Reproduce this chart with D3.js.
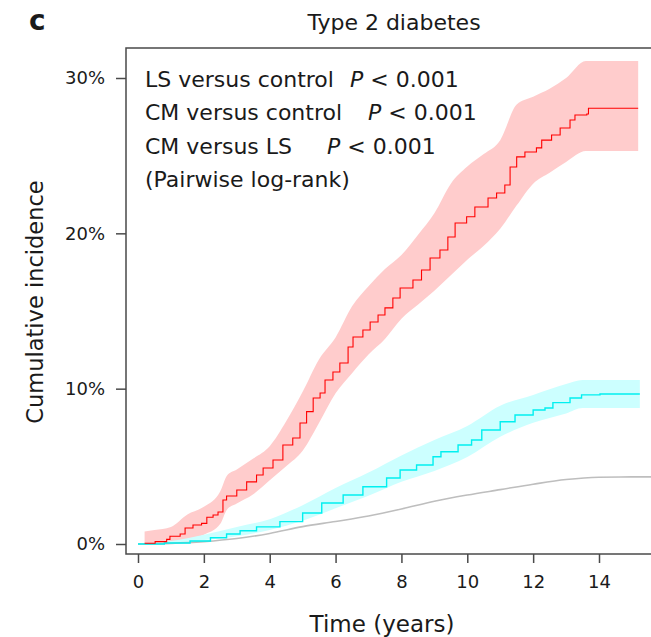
<!DOCTYPE html>
<html>
<head>
<meta charset="utf-8">
<script src="https://cdn.jsdelivr.net/npm/d3@7"></script>
<style>
  body { margin: 0; background: #fff; }
  svg text { font-family: "DejaVu Sans", "Liberation Sans", sans-serif; fill: #1a1a1a; }
</style>
</head>
<body>
<div class="canvas"></div>
<script>
// values (percent cumulative incidence vs years)
var redT = [0.2, 0.52, 0.87, 0.97, 1.28, 1.43, 1.67, 1.93, 2.09, 2.28, 2.43, 2.58, 2.69, 3.0, 3.3, 3.6, 3.8, 4.1, 4.4, 4.7, 4.92, 5.12, 5.32, 5.53, 5.68, 5.92, 6.13, 6.38, 6.53, 6.83, 7.05, 7.29, 7.5, 7.74, 7.96, 8.35, 8.61, 8.87, 9.17, 9.41, 9.63, 9.98, 10.23, 10.63, 10.89, 11.14, 11.3, 11.5, 11.75, 12.1, 12.26, 12.56, 12.82, 13.12, 13.27, 13.63, 13.68, 15.19];
var redV = [0.05, 0.15, 0.3, 0.5, 0.64, 1.03, 1.22, 1.33, 1.72, 1.87, 2.06, 2.83, 3.09, 3.48, 4.0, 4.44, 4.89, 5.41, 6.37, 6.82, 7.79, 8.52, 9.4, 9.72, 10.56, 11.07, 11.65, 12.68, 13.33, 13.78, 14.29, 14.74, 15.2, 15.84, 16.48, 17.0, 17.64, 18.41, 18.93, 19.76, 20.67, 21.07, 21.7, 22.27, 22.6, 23.11, 24.27, 24.92, 25.24, 25.5, 26.0, 26.33, 26.78, 27.3, 27.62, 27.68, 28.05, 28.05];
var redBandT = [0.2, 0.5, 1.0, 1.5, 2.0, 2.5, 2.7, 3.0, 3.5, 4.0, 4.5, 5.0, 5.5, 6.0, 6.5, 7.0, 7.5, 8.0, 8.5, 9.0, 9.5, 10.0, 10.5, 11.0, 11.5, 12.0, 12.5, 13.0, 13.6, 15.19];
var redLo = [0, 0, 0.1, 0.3, 0.6, 1.3, 2.2, 2.6, 3.2, 4.1, 5.0, 6.0, 7.8, 9.7, 11.0, 12.2, 13.2, 14.5, 15.4, 16.3, 17.3, 18.3, 19.2, 20.3, 21.8, 23.2, 23.9, 24.6, 25.3, 25.3];
var redHi = [0.8, 0.9, 1.1, 1.9, 2.4, 3.4, 4.4, 4.8, 5.5, 6.3, 7.9, 9.8, 11.9, 13.3, 15.3, 16.6, 17.7, 18.6, 19.9, 21.3, 23.2, 24.3, 25.1, 26.0, 28.3, 28.8, 29.3, 30.0, 31.1, 31.1];

var cyanT = [0, 0.8, 1.58, 2.2, 2.69, 3.1, 3.6, 4.31, 5.0, 5.58, 6.23, 6.83, 7.55, 7.96, 8.46, 8.96, 9.2, 9.72, 10.13, 10.44, 11.0, 11.45, 12.0, 12.36, 12.6, 13.12, 13.47, 14.03, 15.24];
var cyanV = [0, 0.06, 0.19, 0.4, 0.64, 0.85, 1.1, 1.44, 2.0, 2.64, 3.15, 3.69, 4.25, 4.76, 5.09, 5.62, 5.94, 6.37, 6.7, 7.34, 7.87, 8.3, 8.63, 8.76, 9.1, 9.4, 9.6, 9.66, 9.66];
var cyanBandT = [0, 1, 2, 3, 4, 5, 6, 7, 8, 9, 10, 11, 12, 13, 13.5, 15.24];
var cyanLo = [0, 0, 0.25, 0.5, 0.9, 1.5, 2.3, 3.1, 4.0, 4.7, 5.6, 6.9, 7.8, 8.4, 8.75, 8.75];
var cyanHi = [0, 0.2, 0.6, 1.1, 1.6, 2.5, 3.6, 4.6, 5.7, 6.7, 7.6, 8.9, 9.6, 10.3, 10.55, 10.55];

var greyT = [0, 1, 2, 3, 4, 5, 6, 7, 8, 9, 10, 11, 12, 13, 14, 15, 16];
var greyV = [0, 0.04, 0.15, 0.35, 0.68, 1.12, 1.45, 1.8, 2.25, 2.75, 3.15, 3.5, 3.85, 4.15, 4.3, 4.32, 4.32];

var xTicks = [0, 2, 4, 6, 8, 10, 12, 14];
var yTicks = [0, 10, 20, 30];

var annoLines = ['LS versus control', 'CM versus control', 'CM versus LS', '(Pairwise log-rank)'];
var annoP = ['< 0.001', '< 0.001', '< 0.001', null];

var width = 651, height = 637;
var box = {left: 126, top: 48, bottom: 554, right: 660};

var svg = d3.select('.canvas').append('svg')
	.attr('width', width).attr('height', height);

var x = d3.scaleLinear().domain([0, 14]).range([138, 599]);
var y = d3.scaleLinear().domain([0, 30]).range([544, 78]);

function pts(t, v) { return t.map(function(d, i) { return [d, v[i]]; }); }
function band(t, lo, hi) { return t.map(function(d, i) { return [d, lo[i], hi[i]]; }); }

svg.append('clipPath').attr('id', 'plotclip')
	.append('rect')
	.attr('x', box.left).attr('y', box.top)
	.attr('width', width - box.left).attr('height', box.bottom - box.top);

var plot = svg.append('g').attr('clip-path', 'url(#plotclip)');

// bands are made of many tiny steps, read them as a smooth outline
var areaGen = d3.area()
	.curve(d3.curveMonotoneX)
	.x(function(d) { return x(d[0]); })
	.y0(function(d) { return y(d[1]); })
	.y1(function(d) { return y(d[2]); });

var stepLine = d3.line()
	.curve(d3.curveStepAfter)
	.x(function(d) { return x(d[0]); })
	.y(function(d) { return y(d[1]); });

plot.append('path').attr('d', areaGen(band(redBandT, redLo, redHi)))
	.attr('fill', '#ffcccc');
plot.append('path').attr('d', areaGen(band(cyanBandT, cyanLo, cyanHi)))
	.attr('fill', '#ccffff');

// control (smooth, large group)
plot.append('path')
	.attr('d', d3.line().curve(d3.curveMonotoneX)
		.x(function(d) { return x(d[0]); })
		.y(function(d) { return y(d[1]); })(pts(greyT, greyV)))
	.attr('fill', 'none').attr('stroke', '#bebebe').attr('stroke-width', 1.6);

plot.append('path').attr('d', stepLine(pts(cyanT, cyanV)))
	.attr('fill', 'none').attr('stroke', '#00f0f0').attr('stroke-width', 1.4);

plot.append('path').attr('d', stepLine(pts(redT, redV)))
	.attr('fill', 'none').attr('stroke', '#ff0000').attr('stroke-width', 1.1);

// frame
svg.append('rect')
	.attr('x', box.left).attr('y', box.top)
	.attr('width', box.right - box.left).attr('height', box.bottom - box.top)
	.attr('fill', 'none').attr('stroke', '#4a4a4a').attr('stroke-width', 1.5);

// axes
var yAxis = svg.append('g')
	.attr('transform', 'translate(' + box.left + ',0)')
	.call(d3.axisLeft(y).tickValues(yTicks).tickSize(10).tickPadding(11)
		.tickFormat(function(d) { return d + '%'; }));
var xAxis = svg.append('g')
	.attr('transform', 'translate(0,' + box.bottom + ')')
	.call(d3.axisBottom(x).tickValues(xTicks).tickSize(9).tickPadding(12));

[yAxis, xAxis].forEach(function(a) {
	a.select('.domain').remove();
	a.selectAll('.tick line').attr('stroke', '#4a4a4a').attr('stroke-width', 1.5);
	a.selectAll('.tick text').attr('font-size', 18)
		.style('font-family', '"DejaVu Sans", sans-serif').attr('fill', '#1a1a1a');
});

// annotation
var anno = svg.append('g');
var pX = [350, 368, 327];
annoLines.forEach(function(s, i) {
	var t = anno.append('text')
		.attr('x', 145).attr('y', 87 + i * 33.3)
		.attr('font-size', 22);
	t.append('tspan').text(s);
	if (annoP[i]) {
		t.append('tspan').attr('x', pX[i]).attr('font-style', 'italic').text('P');
		t.append('tspan').text(' ' + annoP[i]);
	}
});

// titles
svg.append('text').attr('x', 394).attr('y', 30)
	.attr('text-anchor', 'middle').attr('font-size', 22)
	.text('Type 2 diabetes');
svg.append('text').attr('x', 382).attr('y', 632)
	.attr('text-anchor', 'middle').attr('font-size', 23)
	.text('Time (years)');
svg.append('text')
	.attr('transform', 'translate(43,302) rotate(-90)')
	.attr('text-anchor', 'middle').attr('font-size', 22.5)
	.text('Cumulative incidence');
svg.append('text').attr('x', 29).attr('y', 30)
	.attr('font-size', 28).attr('font-weight', 900)
	.text('c');
</script>
</body>
</html>
